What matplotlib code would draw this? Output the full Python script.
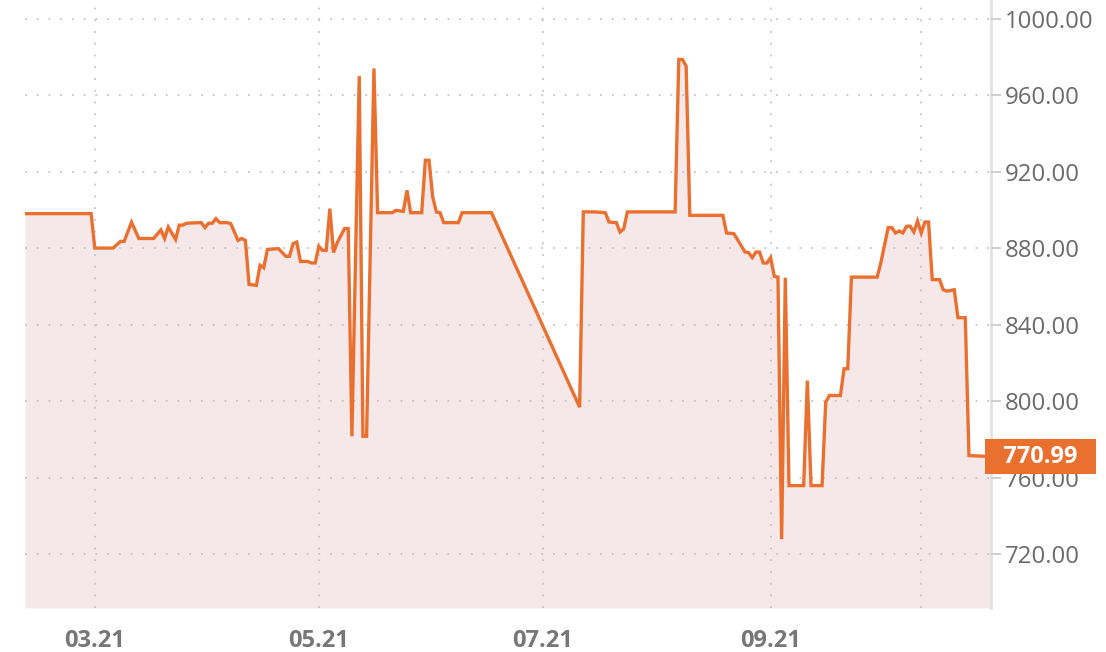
import matplotlib
matplotlib.use("Agg")
import matplotlib.pyplot as plt
import matplotlib.dates as mdates
import matplotlib.transforms as mtransforms
import pandas as pd

# price series
dates = [
    "2021-02-10", "2021-02-28", "2021-03-01", "2021-03-06", "2021-03-08", "2021-03-09",
    "2021-03-11", "2021-03-13", "2021-03-17", "2021-03-19", "2021-03-20", "2021-03-21",
    "2021-03-23", "2021-03-24", "2021-03-25", "2021-03-26", "2021-03-30", "2021-03-31",
    "2021-04-01", "2021-04-02", "2021-04-03", "2021-04-04", "2021-04-06", "2021-04-07",
    "2021-04-09", "2021-04-10", "2021-04-11", "2021-04-12", "2021-04-14", "2021-04-15",
    "2021-04-16", "2021-04-17", "2021-04-20", "2021-04-22", "2021-04-23", "2021-04-24",
    "2021-04-25", "2021-04-26", "2021-04-28", "2021-04-29", "2021-04-30", "2021-05-01",
    "2021-05-02", "2021-05-03", "2021-05-04", "2021-05-05", "2021-05-06", "2021-05-08",
    "2021-05-09", "2021-05-10", "2021-05-12", "2021-05-13", "2021-05-14", "2021-05-16",
    "2021-05-17", "2021-05-21", "2021-05-22", "2021-05-24", "2021-05-25", "2021-05-26",
    "2021-05-29", "2021-05-30", "2021-05-31", "2021-06-01", "2021-06-02", "2021-06-03",
    "2021-06-04", "2021-06-08", "2021-06-09", "2021-06-17", "2021-07-11", "2021-07-12",
    "2021-07-15", "2021-07-18", "2021-07-19", "2021-07-21", "2021-07-22", "2021-07-23",
    "2021-07-24", "2021-08-06", "2021-08-07", "2021-08-08", "2021-08-09", "2021-08-10",
    "2021-08-19", "2021-08-20", "2021-08-22", "2021-08-23", "2021-08-25", "2021-08-26",
    "2021-08-27", "2021-08-28", "2021-08-29", "2021-08-30", "2021-08-31", "2021-09-01",
    "2021-09-02", "2021-09-03", "2021-09-04", "2021-09-05", "2021-09-06", "2021-09-10",
    "2021-09-11", "2021-09-12", "2021-09-15", "2021-09-16", "2021-09-17", "2021-09-20",
    "2021-09-21", "2021-09-22", "2021-09-23", "2021-09-30", "2021-10-01", "2021-10-03",
    "2021-10-04", "2021-10-05", "2021-10-06", "2021-10-07", "2021-10-08", "2021-10-09",
    "2021-10-10", "2021-10-11", "2021-10-12", "2021-10-13", "2021-10-14", "2021-10-15",
    "2021-10-17", "2021-10-18", "2021-10-19", "2021-10-21", "2021-10-22", "2021-10-24",
    "2021-10-25", "2021-10-31",
]
prices = [
    898, 898, 880, 880, 883.5, 883.5,
    893.5, 885, 885, 889.5, 885, 891,
    884.5, 892, 892, 893, 893.3, 890.7,
    893, 893, 895.4, 893.3, 893.3, 892.8,
    884, 885, 884, 861, 860.5, 871,
    869.7, 879.3, 879.7, 875.7, 875.7, 882.3,
    883.1, 873, 873, 872.2, 872.2, 880.9,
    878.8, 878.8, 900.6, 877.7, 882.8, 890.2,
    890.2, 781.6, 969.9, 781.6, 781.6, 973.9,
    898.5, 898.5, 899.7, 899.2, 910.2, 898.5,
    898.5, 925.9, 925.9, 906.7, 898.9, 898.5,
    893.3, 893.3, 898.5, 898.5, 796.8, 898.9,
    898.9, 898.5, 893.6, 893.3, 888.4, 890,
    898.9, 898.9, 978.6, 978.6, 975.1, 897.1,
    897.1, 887.9, 887.5, 884.4, 878, 877.6,
    875, 877.9, 877.9, 872.2, 872.2, 875,
    865.2, 864.8, 727.8, 864.5, 755.8, 755.8,
    810.7, 755.8, 755.8, 799.4, 802.9, 802.9,
    816.9, 816.9, 864.8, 864.8, 872.2, 890.7,
    890.7, 887.9, 888.9, 887.9, 891.4, 891.4,
    888.4, 894.1, 887.9, 893.6, 893.6, 863.5,
    863.5, 858.2, 857.5, 858.2, 843.6, 843.6,
    771.5, 770.99,
]
last_price = 770.99

x_ticks = ["2021-03-01", "2021-05-01", "2021-07-01", "2021-09-01"]
extra_grid = "2021-10-12"
y_ticks = [720, 760, 800, 840, 880, 920, 960, 1000]

orange = "#ea7030"
fill_col = "#f6e8e8"
grid_col = "#c9c3c3"

plt.rcParams["font.family"] = ["Open Sans", "DejaVu Sans"]

x = pd.to_datetime(dates)

fig = plt.figure(figsize=(11.06, 6.52), dpi=100)
ax = fig.add_axes([25 / 1106, 44 / 652, 966 / 1106, 608 / 652])

ymin, ymax = 691.8, 1009.7
ax.fill_between(x, prices, ymin, color=fill_col, lw=0, zorder=1)
ax.plot(x, prices, color=orange, lw=2.4, zorder=3, solid_joinstyle="miter")

ax.set_xlim(pd.Timestamp("2021-02-10"), pd.Timestamp("2021-10-31"))
ax.set_ylim(ymin, ymax)

ax.set_xticks(pd.to_datetime(x_ticks))
ax.xaxis.set_major_formatter(mdates.DateFormatter("%m.%y"))
ax.set_yticks(y_ticks)
ax.set_yticklabels([f"{v:.2f}" for v in y_ticks])

ax.yaxis.tick_right()
ax.tick_params(axis="y", length=7, width=1.3, color="#cccccc", pad=3,
               labelsize=17.3, labelcolor="#6b6b6b")
ax.tick_params(axis="x", length=0, pad=15, labelsize=17, labelcolor="#777777")
for lab in ax.get_xticklabels():
    lab.set_fontweight("bold")

dots = (0, (1, 5.5))
ax.grid(True, color=grid_col, lw=1.3, linestyle=dots, zorder=2)
ax.axvline(pd.Timestamp(extra_grid), color=grid_col, lw=1.3, linestyle=dots, zorder=2)
ax.set_axisbelow(False)

for s in ["top", "left", "bottom"]:
    ax.spines[s].set_visible(False)
ax.spines["right"].set_color("#e2e2e2")
ax.spines["right"].set_linewidth(2)

# last price tag
trans = mtransforms.blended_transform_factory(ax.transAxes, ax.transData)
ax.text(1.0, last_price, f"  {last_price:.2f}  ", transform=trans, ha="left", va="center",
        color="white", fontsize=17, fontweight="bold", clip_on=False, zorder=10,
        bbox=dict(boxstyle="square,pad=0.25", fc=orange, ec="none"))

fig.savefig("out.png", dpi=100)
